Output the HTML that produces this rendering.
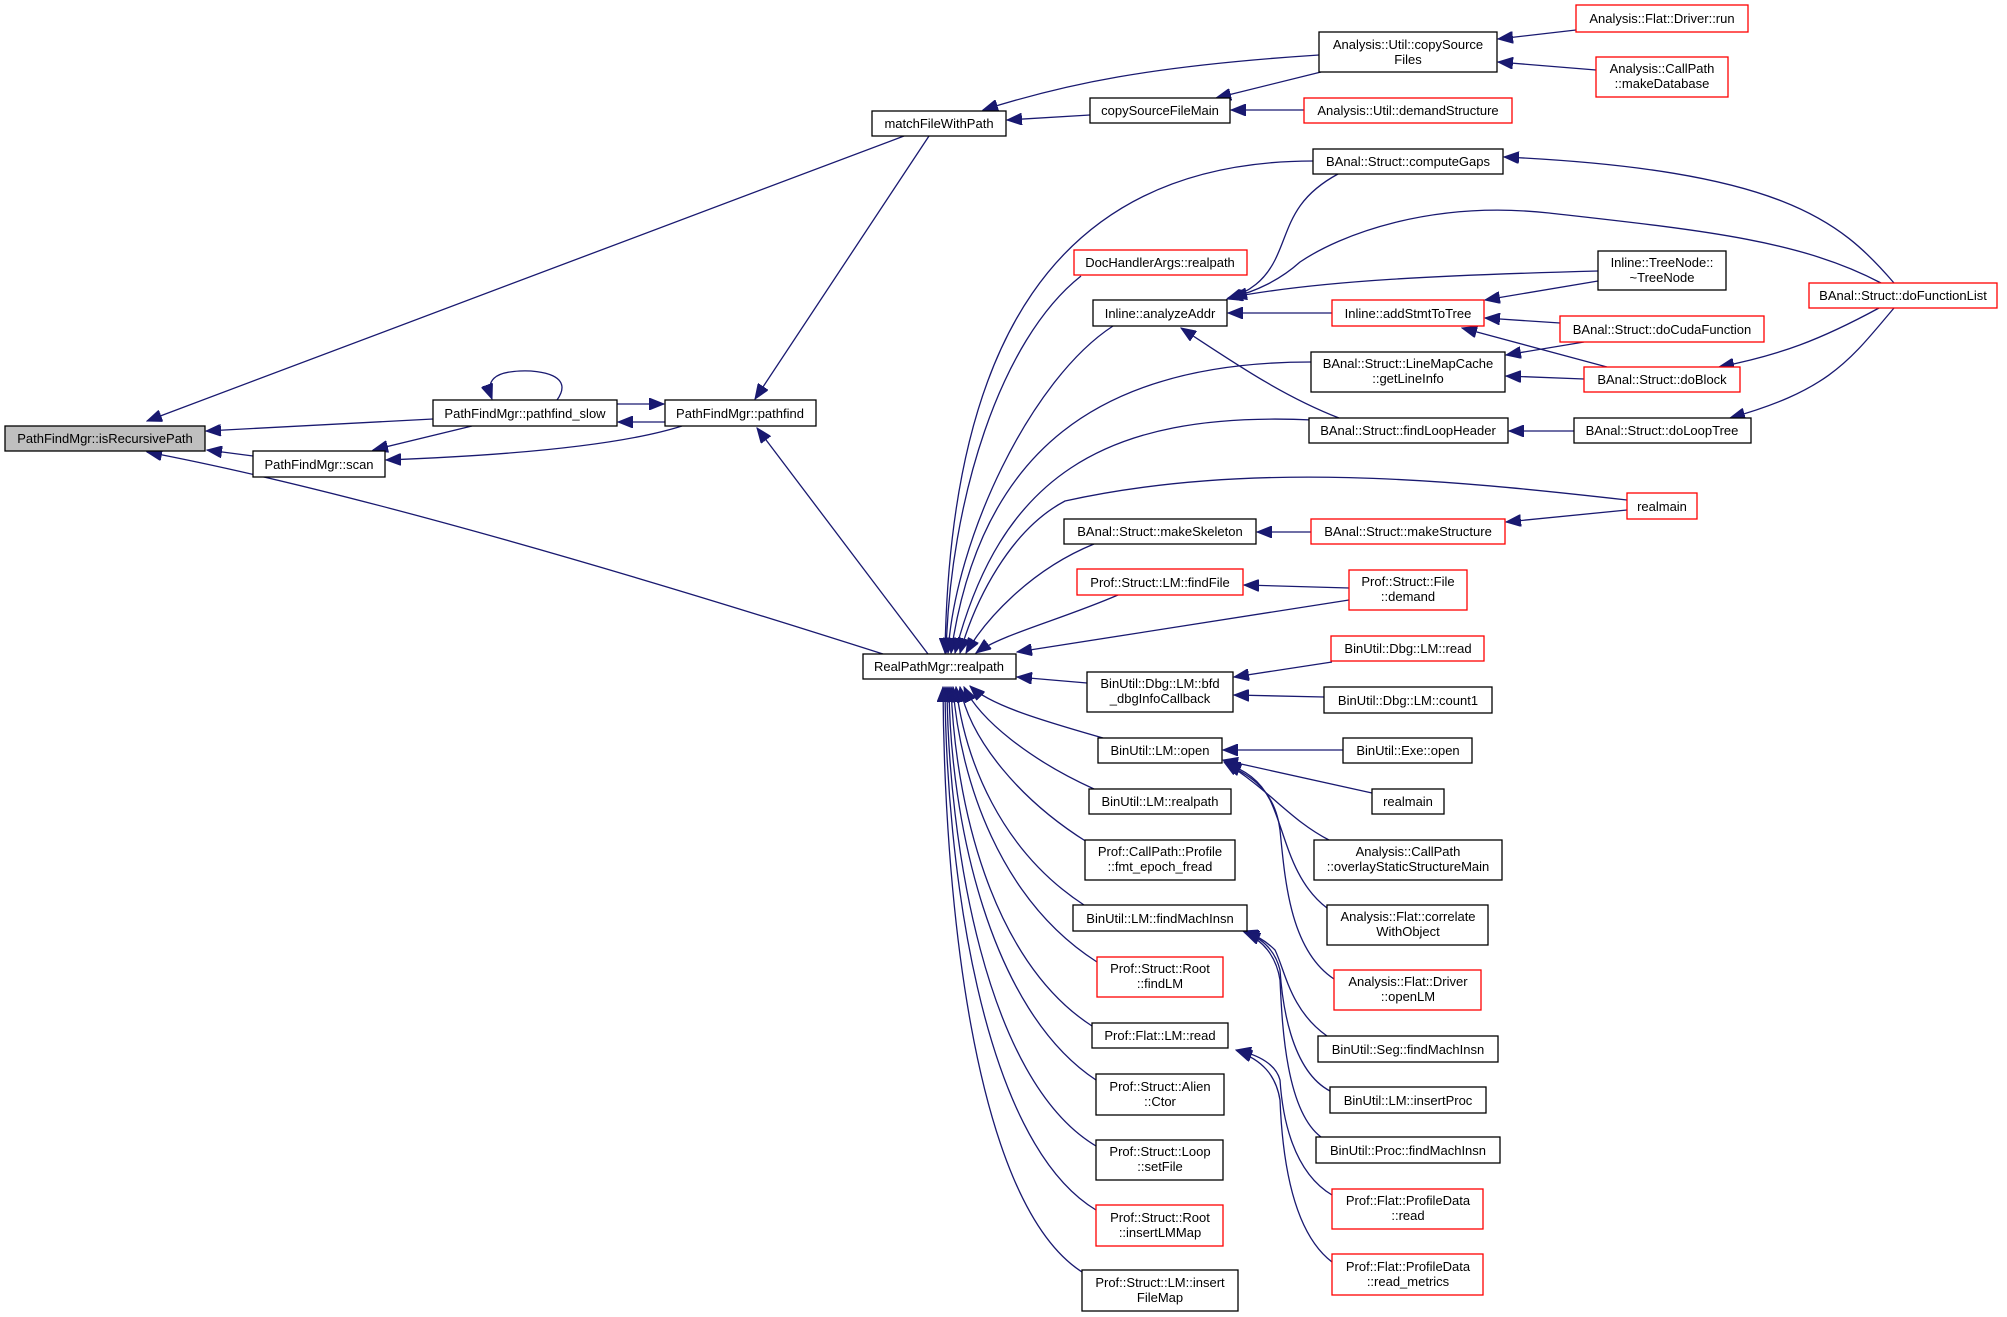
<!DOCTYPE html>
<html><head><meta charset="utf-8"><style>
html,body{margin:0;padding:0;background:#fff;}
svg{display:block;}
text{font-family:"Liberation Sans",sans-serif;font-size:13px;fill:#000;text-anchor:middle;}
.e{fill:none;stroke:#191970;stroke-width:1.3;}
.b{fill:#fff;stroke:#000;stroke-width:1.3;}
.r{fill:#fff;stroke:#ff0000;stroke-width:1.3;}
</style></head><body>
<svg width="2007" height="1317" viewBox="0 0 2007 1317" xmlns="http://www.w3.org/2000/svg">
<defs><marker id="a" markerUnits="userSpaceOnUse" markerWidth="16" markerHeight="12" refX="15" refY="6" orient="auto"><path d="M0,0 L15,6 L0,12 z" fill="#191970" stroke="#191970"/></marker></defs>
<g class="e" marker-end="url(#a)">
<path d="M904,136 L147,421"/>
<path d="M433,419 L206,431"/>
<path d="M253,456 L207,450"/>
<path d="M883,654 Q400,500 147,452"/>
<path d="M557,400 C575,375 540,370 520,371 C495,372 485,380 492,399"/>
<path d="M617,404 L664,404"/>
<path d="M665,422 L618,422"/>
<path d="M472,426 L373,450"/>
<path d="M682,426 Q600,452 386,460"/>
<path d="M929,136 L755,399"/>
<path d="M928,654 L757,428"/>
<path d="M1319,55 C1150,66 1065,84 983,110"/>
<path d="M1090,115 L1007,120"/>
<path d="M1321,72 L1216,98"/>
<path d="M1304,110 L1231,110"/>
<path d="M1576,30 L1498,39"/>
<path d="M1596,70 L1498,62"/>
<path d="M1313,161 C1050,161 950,350 945,653"/>
<path d="M1081,276 C1000,340 950,500 946,653"/>
<path d="M1113,326 C1030,380 955,540 948,653"/>
<path d="M1311,362 C1100,362 980,450 951,653"/>
<path d="M1313,420 C1100,410 1000,480 955,653"/>
<path d="M1627,500 C1450,480 1250,460 1065,501 C1010,530 975,600 960,653"/>
<path d="M1094,544 C1030,570 985,620 966,653"/>
<path d="M1118,595 C1060,620 1000,635 976,653"/>
<path d="M1349,600 L1017,652"/>
<path d="M1087,683 L1017,677"/>
<path d="M1103,738 C1040,720 990,705 970,686"/>
<path d="M1094,789 C1030,760 980,720 964,687"/>
<path d="M1087,842 C1020,800 970,740 960,687"/>
<path d="M1084,905 C1000,850 965,760 956,687"/>
<path d="M1097,962 C1000,900 960,780 953,687"/>
<path d="M1092,1026 C990,960 955,800 951,687"/>
<path d="M1096,1080 C990,1010 950,820 949,687"/>
<path d="M1096,1146 C985,1080 948,840 947,687"/>
<path d="M1096,1210 C980,1140 946,860 945,687"/>
<path d="M1082,1272 C970,1200 944,880 943,687"/>
<path d="M1894,283 C1840,220 1780,170 1504,157"/>
<path d="M1338,174 C1290,200 1290,230 1275,260 C1265,280 1250,292 1227,299"/>
<path d="M1881,283 C1800,240 1700,230 1549,213 C1430,200 1340,235 1300,262 C1280,280 1255,292 1232,297"/>
<path d="M1598,271 C1450,275 1320,280 1228,298"/>
<path d="M1332,313 L1228,313"/>
<path d="M1339,418 C1280,395 1230,360 1181,328"/>
<path d="M1598,281 L1485,300"/>
<path d="M1560,323 L1485,318"/>
<path d="M1607,367 L1462,328"/>
<path d="M1584,342 L1506,355"/>
<path d="M1584,379 L1506,376"/>
<path d="M1574,431 L1509,431"/>
<path d="M1879,308 C1820,340 1780,355 1719,367"/>
<path d="M1894,308 C1850,360 1830,390 1730,418"/>
<path d="M1627,510 L1506,522"/>
<path d="M1311,532 L1257,532"/>
<path d="M1349,588 L1244,585"/>
<path d="M1332,662 L1234,677"/>
<path d="M1324,697 L1234,695"/>
<path d="M1343,750 L1223,750"/>
<path d="M1372,793 L1223,760"/>
<path d="M1329,840 C1290,820 1270,790 1224,762"/>
<path d="M1327,908 C1290,880 1285,830 1270,800 C1260,780 1245,770 1225,763"/>
<path d="M1334,979 C1290,950 1285,880 1280,830 C1275,790 1250,775 1226,764"/>
<path d="M1327,1036 C1290,1010 1285,970 1275,950 C1265,940 1255,935 1243,931"/>
<path d="M1330,1091 C1290,1070 1282,1000 1280,970 C1275,950 1262,938 1244,932"/>
<path d="M1321,1137 C1285,1110 1282,1020 1280,980 C1276,955 1262,940 1245,933"/>
<path d="M1332,1195 C1290,1170 1282,1110 1280,1080 C1276,1065 1260,1055 1236,1050"/>
<path d="M1332,1262 C1290,1230 1282,1150 1280,1100 C1276,1075 1262,1060 1237,1051"/>
</g>
<rect x="5" y="426" width="200" height="25" fill="#bfbfbf" stroke="#000" stroke-width="1.3"/><text x="105" y="443">PathFindMgr::isRecursivePath</text>
<rect class="b" x="433" y="400" width="184" height="26"/><text x="525" y="418">PathFindMgr::pathfind_slow</text>
<rect class="b" x="665" y="400" width="151" height="26"/><text x="740" y="418">PathFindMgr::pathfind</text>
<rect class="b" x="253" y="451" width="132" height="26"/><text x="319" y="469">PathFindMgr::scan</text>
<rect class="b" x="872" y="111" width="134" height="25"/><text x="939" y="128">matchFileWithPath</text>
<rect class="b" x="863" y="654" width="153" height="25"/><text x="939" y="671">RealPathMgr::realpath</text>
<rect class="b" x="1319" y="32" width="178" height="40"/><text x="1408" y="49">Analysis::Util::copySource</text><text x="1408" y="64">Files</text>
<rect class="r" x="1576" y="5" width="172" height="27"/><text x="1662" y="23">Analysis::Flat::Driver::run</text>
<rect class="r" x="1596" y="57" width="132" height="40"/><text x="1662" y="73">Analysis::CallPath</text><text x="1662" y="88">::makeDatabase</text>
<rect class="b" x="1090" y="98" width="140" height="25"/><text x="1160" y="115">copySourceFileMain</text>
<rect class="r" x="1304" y="98" width="208" height="25"/><text x="1408" y="115">Analysis::Util::demandStructure</text>
<rect class="b" x="1313" y="149" width="190" height="25"/><text x="1408" y="166">BAnal::Struct::computeGaps</text>
<rect class="r" x="1074" y="250" width="173" height="25"/><text x="1160" y="267">DocHandlerArgs::realpath</text>
<rect class="b" x="1093" y="300" width="134" height="26"/><text x="1160" y="318">Inline::analyzeAddr</text>
<rect class="b" x="1598" y="251" width="128" height="39"/><text x="1662" y="267">Inline::TreeNode::</text><text x="1662" y="282">~TreeNode</text>
<rect class="r" x="1332" y="300" width="152" height="26"/><text x="1408" y="318">Inline::addStmtToTree</text>
<rect class="r" x="1809" y="283" width="188" height="25"/><text x="1903" y="300">BAnal::Struct::doFunctionList</text>
<rect class="r" x="1560" y="316" width="204" height="26"/><text x="1662" y="334">BAnal::Struct::doCudaFunction</text>
<rect class="b" x="1311" y="352" width="194" height="40"/><text x="1408" y="368">BAnal::Struct::LineMapCache</text><text x="1408" y="383">::getLineInfo</text>
<rect class="r" x="1584" y="367" width="156" height="25"/><text x="1662" y="384">BAnal::Struct::doBlock</text>
<rect class="b" x="1309" y="418" width="199" height="25"/><text x="1408" y="435">BAnal::Struct::findLoopHeader</text>
<rect class="b" x="1574" y="418" width="177" height="25"/><text x="1662" y="435">BAnal::Struct::doLoopTree</text>
<rect class="r" x="1627" y="493" width="70" height="26"/><text x="1662" y="511">realmain</text>
<rect class="b" x="1064" y="519" width="192" height="25"/><text x="1160" y="536">BAnal::Struct::makeSkeleton</text>
<rect class="r" x="1311" y="519" width="194" height="25"/><text x="1408" y="536">BAnal::Struct::makeStructure</text>
<rect class="r" x="1077" y="569" width="166" height="26"/><text x="1160" y="587">Prof::Struct::LM::findFile</text>
<rect class="r" x="1349" y="570" width="118" height="40"/><text x="1408" y="586">Prof::Struct::File</text><text x="1408" y="601">::demand</text>
<rect class="r" x="1331" y="636" width="153" height="25"/><text x="1408" y="653">BinUtil::Dbg::LM::read</text>
<rect class="b" x="1087" y="672" width="146" height="40"/><text x="1160" y="688">BinUtil::Dbg::LM::bfd</text><text x="1160" y="703">_dbgInfoCallback</text>
<rect class="b" x="1324" y="687" width="168" height="26"/><text x="1408" y="705">BinUtil::Dbg::LM::count1</text>
<rect class="b" x="1098" y="738" width="124" height="25"/><text x="1160" y="755">BinUtil::LM::open</text>
<rect class="b" x="1343" y="738" width="129" height="25"/><text x="1408" y="755">BinUtil::Exe::open</text>
<rect class="b" x="1372" y="789" width="72" height="25"/><text x="1408" y="806">realmain</text>
<rect class="b" x="1089" y="789" width="142" height="25"/><text x="1160" y="806">BinUtil::LM::realpath</text>
<rect class="b" x="1314" y="840" width="188" height="40"/><text x="1408" y="856">Analysis::CallPath</text><text x="1408" y="871">::overlayStaticStructureMain</text>
<rect class="b" x="1085" y="840" width="150" height="40"/><text x="1160" y="856">Prof::CallPath::Profile</text><text x="1160" y="871">::fmt_epoch_fread</text>
<rect class="b" x="1073" y="905" width="174" height="26"/><text x="1160" y="923">BinUtil::LM::findMachInsn</text>
<rect class="b" x="1327" y="905" width="161" height="40"/><text x="1408" y="921">Analysis::Flat::correlate</text><text x="1408" y="936">WithObject</text>
<rect class="r" x="1097" y="957" width="126" height="40"/><text x="1160" y="973">Prof::Struct::Root</text><text x="1160" y="988">::findLM</text>
<rect class="r" x="1334" y="970" width="147" height="40"/><text x="1408" y="986">Analysis::Flat::Driver</text><text x="1408" y="1001">::openLM</text>
<rect class="b" x="1092" y="1023" width="136" height="25"/><text x="1160" y="1040">Prof::Flat::LM::read</text>
<rect class="b" x="1318" y="1036" width="180" height="26"/><text x="1408" y="1054">BinUtil::Seg::findMachInsn</text>
<rect class="b" x="1096" y="1074" width="128" height="41"/><text x="1160" y="1091">Prof::Struct::Alien</text><text x="1160" y="1106">::Ctor</text>
<rect class="b" x="1330" y="1087" width="156" height="26"/><text x="1408" y="1105">BinUtil::LM::insertProc</text>
<rect class="b" x="1316" y="1137" width="184" height="26"/><text x="1408" y="1155">BinUtil::Proc::findMachInsn</text>
<rect class="b" x="1096" y="1140" width="127" height="40"/><text x="1160" y="1156">Prof::Struct::Loop</text><text x="1160" y="1171">::setFile</text>
<rect class="r" x="1332" y="1189" width="151" height="40"/><text x="1408" y="1205">Prof::Flat::ProfileData</text><text x="1408" y="1220">::read</text>
<rect class="r" x="1096" y="1205" width="127" height="41"/><text x="1160" y="1222">Prof::Struct::Root</text><text x="1160" y="1237">::insertLMMap</text>
<rect class="r" x="1332" y="1254" width="151" height="41"/><text x="1408" y="1271">Prof::Flat::ProfileData</text><text x="1408" y="1286">::read_metrics</text>
<rect class="b" x="1082" y="1270" width="156" height="41"/><text x="1160" y="1287">Prof::Struct::LM::insert</text><text x="1160" y="1302">FileMap</text>
</svg>
</body></html>
